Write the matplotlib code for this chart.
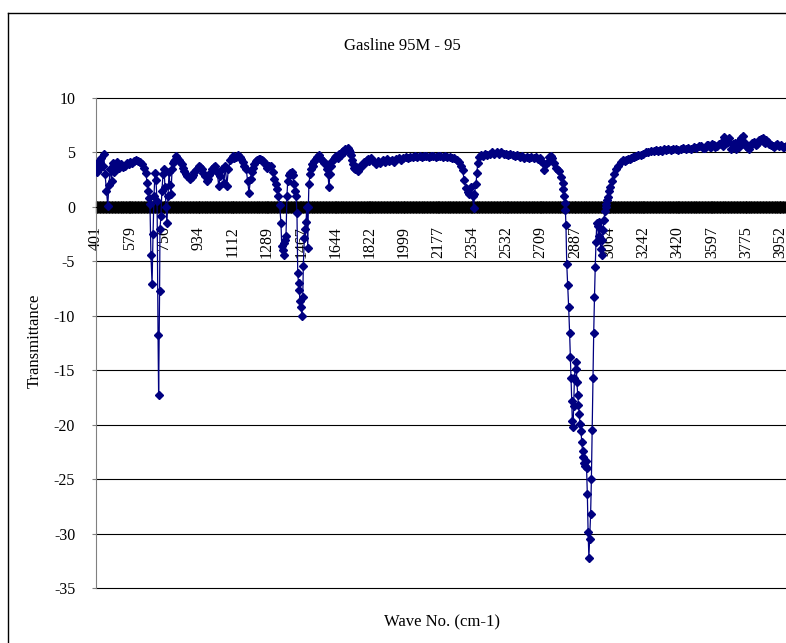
import numpy as np
import matplotlib
matplotlib.use("Agg")
import matplotlib.pyplot as plt
from matplotlib.lines import Line2D

plt.rcParams['font.family'] = ['Liberation Serif', 'DejaVu Serif']
plt.rcParams['axes.unicode_minus'] = False

# spectrum, piece by piece (wave no. cm-1, transmittance)
wn_a = [401, 408, 415, 422, 428, 435, 441, 448, 455, 462, 468, 475, 482, 488, 495, 502,
        510, 520, 530, 540, 550, 560, 570, 580, 590, 600, 610, 620, 630, 640, 650, 660]
t_a = [3.9, 3.2, 4.2, 3.6, 4.5, 3.8, 4.9, 3.0, 1.5, 0.1, 2.0, 3.5, 2.4, 4.0, 3.2, 3.8,
       4.1, 3.6, 3.9, 3.7, 3.8, 4.0, 3.9, 4.1, 4.0, 4.2, 4.3, 4.2, 4.1, 3.9, 3.6, 3.1]

wn_b = [666, 671, 676, 681, 686, 692, 697, 702, 707, 712, 718, 723, 726, 731, 733, 738,
        743, 749, 754, 759, 764, 769, 775, 780, 785, 790, 796, 801, 806, 811, 816]
t_b = [2.2, 1.5, 0.8, 0.3, -4.4, -7.1, -2.5, 1.0, 3.1, 2.5, 0.5, -11.8, -17.3, -7.7, -2.0, -0.8,
       1.5, 3.0, 3.5, 1.8, 0.0, -1.5, 1.0, 3.2, 2.0, 1.2, 3.5, 4.0, 4.2, 4.3, 4.7]

wn_c = [823, 830, 838, 845, 852, 860, 868, 875, 883, 890, 898, 905, 912, 920, 928, 935,
        942, 950, 958, 965, 975, 983, 990, 998, 1005, 1012, 1020, 1030, 1038, 1045, 1055, 1065,
        1072, 1080, 1088, 1098, 1105, 1110, 1118, 1125, 1132, 1140, 1148, 1155, 1162, 1170, 1180, 1188,
        1195, 1203, 1210, 1215, 1222, 1230, 1238, 1245, 1252, 1260, 1268, 1275, 1283, 1290, 1300, 1309,
        1318, 1326, 1334, 1340, 1348, 1354]
t_c = [4.5, 4.3, 4.1, 3.9, 3.6, 3.3, 3.0, 2.8, 2.7, 2.6, 2.7, 2.9, 3.2, 3.4, 3.6, 3.8,
       3.7, 3.5, 3.1, 2.8, 2.4, 2.6, 2.9, 3.2, 3.5, 3.7, 3.8, 3.2, 1.9, 2.8, 3.5, 2.2,
       3.8, 1.9, 3.5, 4.3, 4.5, 4.7, 4.5, 4.6, 4.7, 4.8, 4.6, 4.4, 4.1, 3.8, 3.5, 2.4,
       1.3, 2.6, 3.2, 3.6, 3.9, 4.2, 4.3, 4.4, 4.4, 4.3, 4.2, 4.0, 3.9, 3.6, 3.8, 3.8,
       3.2, 2.6, 2.1, 1.6, 1.0, 0.2]

wn_d = [1361, 1365, 1370, 1375, 1377, 1382, 1387, 1392, 1396, 1403, 1408, 1413, 1418, 1422, 1429, 1434,
        1439, 1444, 1448, 1452, 1455, 1460, 1465, 1470, 1474, 1477, 1482, 1486, 1491, 1495, 1500, 1503]
t_d = [-1.5, -3.6, -4.0, -4.4, -3.3, -3.0, -2.7, 1.0, 2.4, 2.9, 3.1, 3.0, 3.2, 2.9, 2.1, 1.5,
       1.0, -0.6, -6.1, -7.0, -7.6, -8.6, -9.2, -10.0, -8.3, -5.4, -2.9, -2.0, -1.4, 0.0, -3.8, 0.0]

wn_e = [1506, 1512, 1517, 1522, 1526, 1534, 1543, 1550, 1558, 1566, 1572, 1578, 1586, 1595, 1600, 1605,
        1610, 1615, 1621, 1628, 1635, 1641, 1647, 1655, 1662, 1670, 1676, 1681, 1688, 1695, 1701, 1707,
        1713, 1718, 1724, 1728, 1733, 1740, 1746, 1752, 1759, 1765, 1772, 1778, 1785, 1792, 1798, 1805,
        1811, 1818]
t_e = [2.1, 3.0, 3.5, 3.9, 3.8, 4.2, 4.4, 4.6, 4.8, 4.5, 4.3, 4.2, 4.0, 3.9, 3.5, 3.0,
       1.8, 3.0, 3.8, 4.2, 4.4, 4.6, 4.7, 4.5, 4.9, 4.8, 5.0, 5.1, 5.0, 5.3, 5.2, 5.4,
       5.2, 5.0, 4.8, 4.3, 3.9, 3.6, 3.5, 3.7, 3.3, 3.6, 3.8, 3.7, 3.9, 4.1, 4.0, 4.3,
       4.4, 4.2]

wn_f = [1828, 1840, 1852, 1864, 1876, 1888, 1900, 1912, 1924, 1936, 1948, 1960, 1972, 1984, 1996, 2008,
        2020, 2032, 2044, 2056, 2068, 2080, 2092, 2104, 2116, 2128, 2140, 2152, 2164, 2176, 2188, 2200,
        2212, 2224, 2236, 2248, 2260, 2272, 2285, 2295, 2304, 2311, 2321, 2330, 2337, 2347, 2355, 2361,
        2365, 2373, 2378, 2382, 2389]
t_f = [4.5, 4.2, 3.9, 4.2, 4.0, 4.3, 4.1, 4.4, 4.2, 4.3, 4.1, 4.4, 4.5, 4.3, 4.5, 4.6,
       4.5, 4.6, 4.6, 4.7, 4.6, 4.7, 4.6, 4.7, 4.7, 4.6, 4.7, 4.7, 4.6, 4.7, 4.7, 4.6,
       4.7, 4.6, 4.6, 4.5, 4.5, 4.3, 4.1, 3.8, 3.4, 2.5, 1.7, 1.4, 1.2, 1.8, 1.0, -0.1,
       1.2, 2.1, 3.1, 4.0, 4.6]

wn_g = [2400, 2410, 2420, 2432, 2444, 2456, 2468, 2480, 2492, 2504, 2516, 2528, 2540, 2552, 2564, 2576,
        2588, 2600, 2612, 2624, 2636, 2648, 2660, 2672, 2684, 2695, 2705, 2712, 2719, 2726, 2734, 2745,
        2752, 2762, 2770, 2778, 2788, 2797, 2806]
t_g = [4.8, 4.7, 4.9, 4.8, 4.9, 5.0, 4.9, 5.0, 4.9, 5.0, 4.9, 4.9, 4.8, 4.9, 4.8, 4.7,
       4.8, 4.6, 4.7, 4.5, 4.6, 4.5, 4.6, 4.5, 4.6, 4.4, 4.5, 4.2, 4.0, 3.4, 3.9, 4.1,
       4.6, 4.7, 4.5, 4.0, 3.6, 3.4, 3.3]

wn_h = [2814, 2823, 2826, 2831, 2835, 2837, 2840, 2844, 2849, 2854, 2859, 2863, 2866, 2870, 2873, 2877,
        2880, 2884, 2890, 2894, 2897, 2901, 2905, 2909, 2913, 2918, 2922, 2926, 2931, 2935, 2939, 2943,
        2947, 2951, 2955, 2959, 2963, 2968, 2972, 2976, 2980, 2984, 2988, 2992, 2996, 3000, 3004, 3009,
        3013, 3017, 3021, 3025, 3029, 3033, 3037, 3042, 3046, 3050, 3054, 3060, 3065, 3070, 3078]
t_h = [2.7, 2.2, 1.6, 1.0, 0.4, -0.3, -1.7, -5.2, -7.2, -9.2, -11.6, -13.8, -15.7, -17.8, -19.7, -20.2,
       -18.3, -15.7, -14.2, -14.9, -16.1, -17.3, -18.2, -19.0, -19.9, -20.6, -21.6, -22.4, -23.0, -23.5, -23.8, -23.3,
       -24.0, -26.4, -29.9, -32.2, -30.5, -28.2, -25.0, -20.5, -15.7, -11.6, -8.3, -5.5, -3.2, -1.5, -1.8, -2.7,
       -1.4, -3.0, -3.9, -4.4, -3.0, -2.1, -1.2, -0.4, 0.0, 0.3, 0.6, 0.9, 1.5, 1.8, 2.4]

wn_i = [3089, 3099, 3109, 3125, 3135, 3145, 3151, 3160, 3170, 3177, 3188, 3195, 3203, 3215, 3229, 3240,
        3255, 3268, 3281, 3295, 3305, 3318, 3330, 3340, 3350, 3360, 3372, 3384, 3396, 3410, 3424, 3437,
        3450, 3462, 3473, 3487, 3504, 3517, 3530, 3541, 3551, 3561, 3570, 3577, 3585, 3593, 3600, 3608,
        3616, 3624, 3635, 3645, 3655, 3662, 3671, 3681, 3686, 3697, 3707, 3712, 3718, 3723, 3728, 3733,
        3738, 3743, 3750, 3757, 3764, 3770, 3775, 3782, 3790, 3800, 3808, 3816, 3824, 3832, 3842, 3852,
        3861, 3867, 3873, 3880, 3887, 3896, 3904, 3912, 3920, 3928, 3935, 3945, 3956, 3964, 3972, 3980]
t_i = [3.0, 3.5, 3.8, 4.1, 4.3, 4.2, 4.3, 4.4, 4.4, 4.5, 4.6, 4.6, 4.7, 4.8, 4.8, 4.9,
       5.0, 5.0, 5.1, 5.1, 5.2, 5.1, 5.2, 5.1, 5.3, 5.2, 5.3, 5.2, 5.3, 5.3, 5.2, 5.3,
       5.4, 5.3, 5.4, 5.3, 5.5, 5.4, 5.6, 5.6, 5.4, 5.4, 5.7, 5.7, 5.5, 5.5, 5.8, 5.7,
       5.5, 5.6, 5.8, 5.9, 5.6, 6.4, 5.9, 6.0, 6.3, 5.3, 5.8, 5.6, 5.9, 5.3, 5.7, 5.8,
       5.5, 6.1, 6.3, 6.5, 6.0, 5.8, 5.6, 5.5, 5.3, 5.7, 5.9, 6.0, 5.7, 5.8, 6.1, 6.2,
       6.3, 6.0, 5.9, 6.1, 6.0, 5.8, 5.7, 5.6, 5.5, 5.7, 5.8, 5.6, 5.7, 5.5, 5.5, 5.6]

xtick_vals = [401, 579, 756, 934, 1112, 1289, 1467, 1644, 1822, 1999, 2177,
              2354, 2532, 2709, 2887, 3064, 3242, 3420, 3597, 3775, 3952]

wn = wn_a + wn_b + wn_c + wn_d + wn_e + wn_f + wn_g + wn_h + wn_i
t = t_a + t_b + t_c + t_d + t_e + t_f + t_g + t_h + t_i

fig = plt.figure(figsize=(7.86, 6.43), dpi=100)
ax = fig.add_axes([96 / 786, 1 - 588 / 643, 1 - 96 / 786, (588 - 98) / 643])

ax.plot(wn, t, color='#000080', lw=0.9, marker='D', ms=3.6,
        mec='#000080', mfc='#000080', zorder=3)

ax.set_xlim(401, 3982)
ax.set_ylim(-35, 10)
ax.set_yticks(range(-35, 11, 5))
ax.yaxis.grid(True, color='black', lw=0.8)
for gl in ax.yaxis.get_gridlines():
    gl.set_clip_on(False)
ax.set_axisbelow(True)

for s in ['top', 'right']:
    ax.spines[s].set_visible(False)
ax.spines['left'].set_color('#808080')
ax.spines['bottom'].set_position(('data', 0))
ax.spines['bottom'].set_color('black')

# one tick per data category in the original sheet -> black band on the zero line
ax.set_xticks(np.arange(401, 3982, 3.857), minor=True)
ax.set_xticks(xtick_vals)
ax.set_xticklabels([str(v) for v in xtick_vals], rotation=90, fontsize=11.5)
ax.tick_params(axis='x', which='both', direction='inout', length=8, width=0.9,
               color='black', pad=10)
ax.tick_params(axis='y', direction='out', length=3, color='#808080', pad=12,
               labelsize=11.5)

fig.text(402 / 786, 1 - 46 / 643, 'Gasline 95M - 95', ha='center', va='center', fontsize=12)
fig.text(442 / 786, 1 - 622 / 643, 'Wave No. (cm-1)', ha='center', va='center', fontsize=12)
fig.text(35 / 786, 1 - 341 / 643, 'Transmittance', ha='center', va='center',
         rotation=90, fontsize=12)

# chart area border (cut off on the right and bottom)
fig.add_artist(Line2D([8 / 786, 8 / 786], [0, 1 - 13 / 643], color='black', lw=1))
fig.add_artist(Line2D([8 / 786, 1], [1 - 13 / 643, 1 - 13 / 643], color='black', lw=1))

fig.savefig('out.png', dpi=100)
